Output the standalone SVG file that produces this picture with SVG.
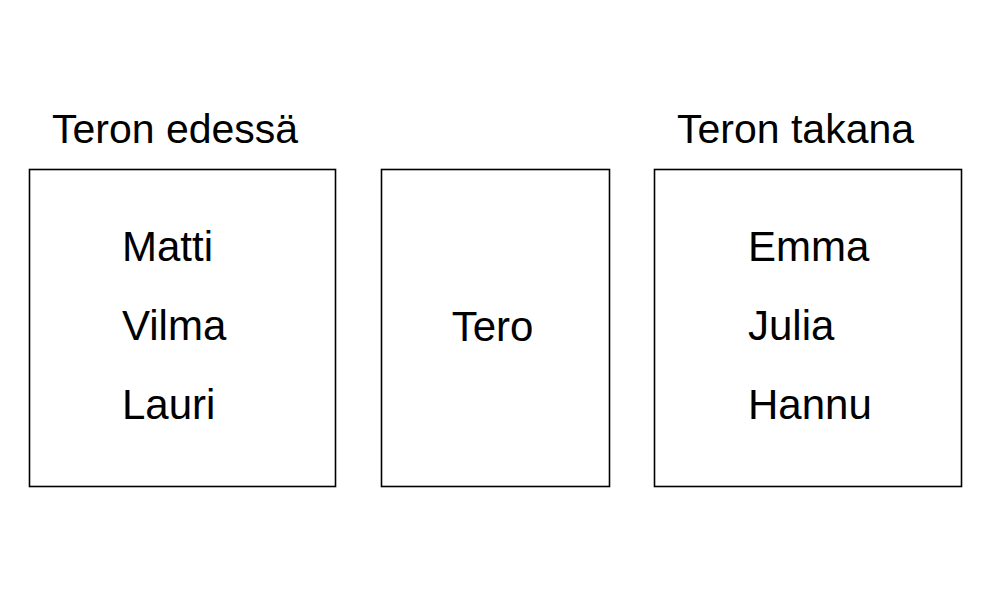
<svg xmlns="http://www.w3.org/2000/svg" width="1000" height="600" viewBox="0 0 1000 600">
<style>
.box{fill:#fff;stroke:#000;stroke-width:1.6}
.t{font-family:"Liberation Sans",Arial,sans-serif;font-size:41px;fill:#000}
.n{font-family:"Liberation Sans",Arial,sans-serif;font-size:42px;fill:#000}
</style>
<rect width="1000" height="600" fill="#fff"/>
<g id="title-front"><text class="t" x="52" y="143">Teron edessä</text></g>
<g id="title-back"><text class="t" x="677" y="143">Teron takana</text></g>
<g id="front">
<rect class="box" x="29.5" y="169.5" width="306" height="317"/>
<text class="n" x="122" y="261">Matti</text>
<text class="n" x="122" y="340">Vilma</text>
<text class="n" x="122" y="419">Lauri</text>
</g>
<g id="tero">
<rect class="box" x="381.5" y="169.5" width="228" height="317"/>
<text class="n" x="492.5" y="341" text-anchor="middle">Tero</text>
</g>
<g id="back">
<rect class="box" x="654.5" y="169.5" width="307" height="317"/>
<text class="n" x="748" y="261">Emma</text>
<text class="n" x="748" y="340">Julia</text>
<text class="n" x="748" y="419">Hannu</text>
</g>
<g id="connectors"/>
</svg>
